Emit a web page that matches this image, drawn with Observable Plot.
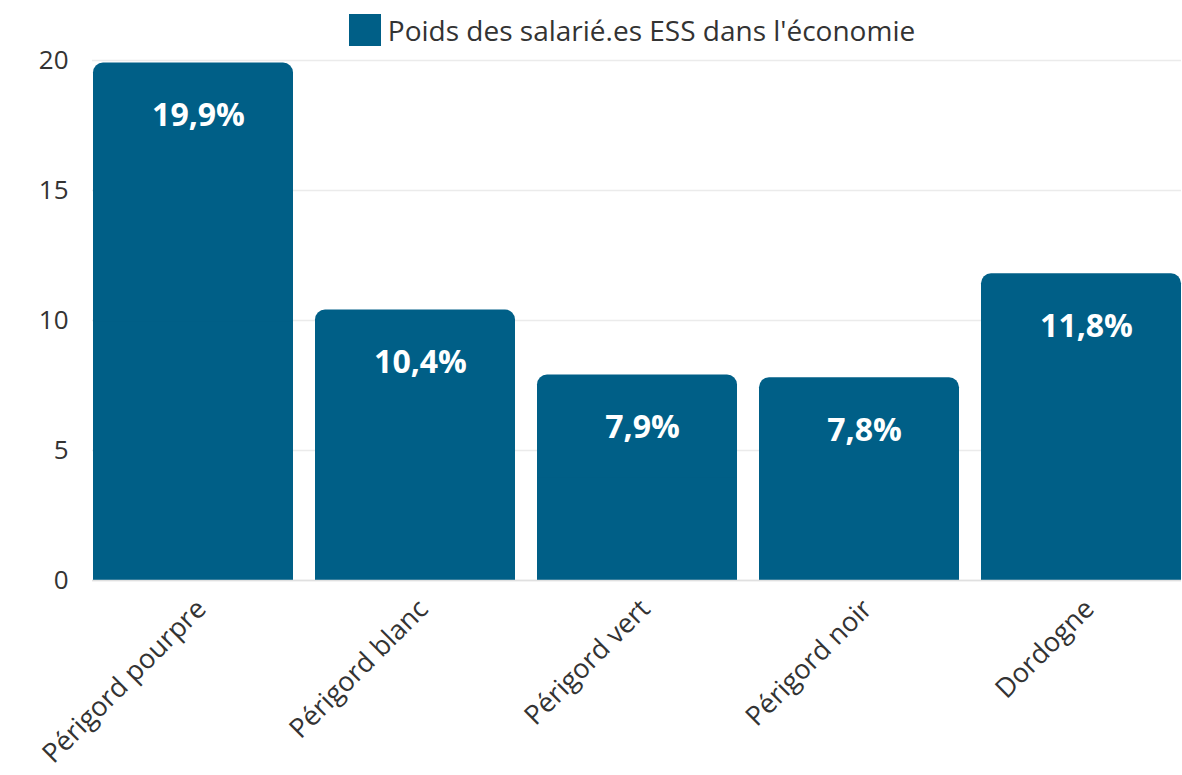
<!DOCTYPE html>
<html>
<head>
<meta charset="utf-8">
<script src="https://cdn.jsdelivr.net/npm/d3@7"></script>
<script src="https://cdn.jsdelivr.net/npm/@observablehq/plot@0.6"></script>
<style>
  body { margin: 0; background: #fff; font-family: "Open Sans", sans-serif; }
  #legend { height: 40px; display: flex; justify-content: center; align-items: flex-end; gap: 7px; padding-left: 82px; box-sizing: border-box; }
  #legend .sw { width: 32px; height: 32px; background: #005f87; margin-bottom: -6px; }
  #legend .lb { font-size: 28px; color: #333; line-height: 32px; margin-bottom: -6px; }
</style>
</head>
<body>
<div id="legend"><div class="sw"></div><div class="lb">Poids des salarié.es ESS dans l'économie</div></div>
<div id="chart"></div>
<script>
const categories = ["Périgord pourpre", "Périgord blanc", "Périgord vert", "Périgord noir", "Dordogne"];
const values = [19.9, 10.4, 7.9, 7.8, 11.8];
const yTicks = [0, 5, 10, 15, 20];
const barColor = "#005f87";

const data = categories.map((c, i) => ({category: c, value: values[i]}));
const fmt = v => v.toFixed(1).replace(".", ",") + "%";

const chart = Plot.plot({
  width: 1182,
  height: 735,
  marginTop: 20,
  marginLeft: 92,
  marginRight: 1,
  marginBottom: 195,
  style: {fontFamily: "'Open Sans', sans-serif", fontSize: "27px", color: "#333", background: "#fff"},
  x: {domain: categories, paddingInner: 0.1, paddingOuter: 0, label: null},
  y: {domain: [0, 20], ticks: yTicks, label: null},
  marks: [
    Plot.ruleY(yTicks, {stroke: "#ebebeb", strokeWidth: 1.5}),
    Plot.barY(data, {x: "category", y: "value", fill: barColor, rx: 10}),
    Plot.barY(data, {x: "category", y1: 0, y2: d => d.value / 2, fill: barColor}),
    Plot.ruleY([0], {stroke: "#e0e0e0", strokeWidth: 1.5}),
    Plot.axisY({ticks: yTicks, tickSize: 0, tickPadding: 24, fontSize: 26, label: null}),
    Plot.axisX({tickSize: 0, tickRotate: -45, tickPadding: 24, dx: 8, fontSize: 27, label: null}),
    Plot.text(data, {x: "category", y: "value", text: d => fmt(d.value), dx: 5, dy: 53, fill: "white", fontWeight: "bold", fontSize: 32, lineAnchor: "middle"})
  ]
});
document.getElementById("chart").append(chart);
</script>
</body>
</html>
